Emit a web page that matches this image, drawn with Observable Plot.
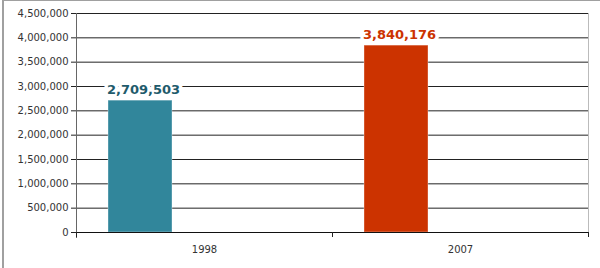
<!DOCTYPE html>
<html>
<head>
<meta charset="utf-8">
<script src="https://cdn.jsdelivr.net/npm/d3@7"></script>
<script src="https://cdn.jsdelivr.net/npm/@observablehq/plot@0.6"></script>
<style>
  html, body { margin: 0; padding: 0; background: #fff; }
  #wrap { position: relative; width: 600px; height: 268px; }
  #edge { position: absolute; left: 2px; top: 0; width: 598px; height: 268px;
          border-top: 1px solid #a0a0a0; border-left: 2px solid #a0a0a0; box-sizing: border-box; pointer-events: none; }
</style>
</head>
<body>
<div id="wrap"><div id="edge"></div></div>
<script>
const years = ["1998", "2007"];
const values = [2709503, 3840176];
const barColors = ["#31869B", "#CC3300"];
const labelColors = ["#1F5B6C", "#CC3300"];
const yTicks = [0, 500000, 1000000, 1500000, 2000000, 2500000, 3000000, 3500000, 4000000, 4500000];

const data = years.map((year, i) => ({year, value: values[i], bar: barColors[i], label: labelColors[i]}));

const W = 600, H = 268, mL = 76, mR = 12, mT = 13, mB = 36;
const step = (W - mL - mR) / years.length;
const plotH = H - mT - mB;
const fmt = d3.format(",");

const chart = Plot.plot({
  width: W, height: H,
  marginLeft: mL, marginRight: mR, marginTop: mT, marginBottom: mB,
  style: {fontFamily: "'DejaVu Sans', Verdana, sans-serif", fontSize: "10px", color: "#222", background: "transparent", overflow: "visible"},
  x: {domain: years, padding: 0, label: null},
  y: {domain: [0, 4500000], label: null},
  marks: [
    Plot.gridY(yTicks, {stroke: "#222", strokeOpacity: 1}),
    Plot.frame({anchor: "right", stroke: "#bbb"}),
    Plot.barY(data, {x: "year", y: "value", fill: "bar", insetLeft: step / 8, insetRight: step * 5 / 8,
      stroke: "#fff", strokeOpacity: 0.35}),
    Plot.frame({anchor: "left", stroke: "#666", insetBottom: -5}),
    Plot.ruleY([0], {stroke: "#111", insetLeft: -5}),
    Plot.ruleX(years, {x: d => d, dx: -step / 2, insetTop: plotH, insetBottom: -5, stroke: "#222"}),
    Plot.ruleX(years.slice(-1), {x: d => d, dx: step / 2, insetTop: plotH, insetBottom: -5, stroke: "#222"}),
    Plot.axisY(yTicks, {tickFormat: fmt, tickSize: 5, tickPadding: 3, stroke: "#222", fill: "#333"}),
    Plot.axisX({tickSize: 0, tickPadding: 13, fill: "#333"}),
    Plot.text(data, {x: "year", y: "value", text: d => fmt(d.value), fill: "label",
      dx: -step / 4 + 3, dy: -7, lineAnchor: "bottom", fontWeight: "bold", fontSize: 13,
      stroke: "white", strokeWidth: 7, paintOrder: "stroke"})
  ]
});
document.getElementById("wrap").prepend(chart);
</script>
</body>
</html>
